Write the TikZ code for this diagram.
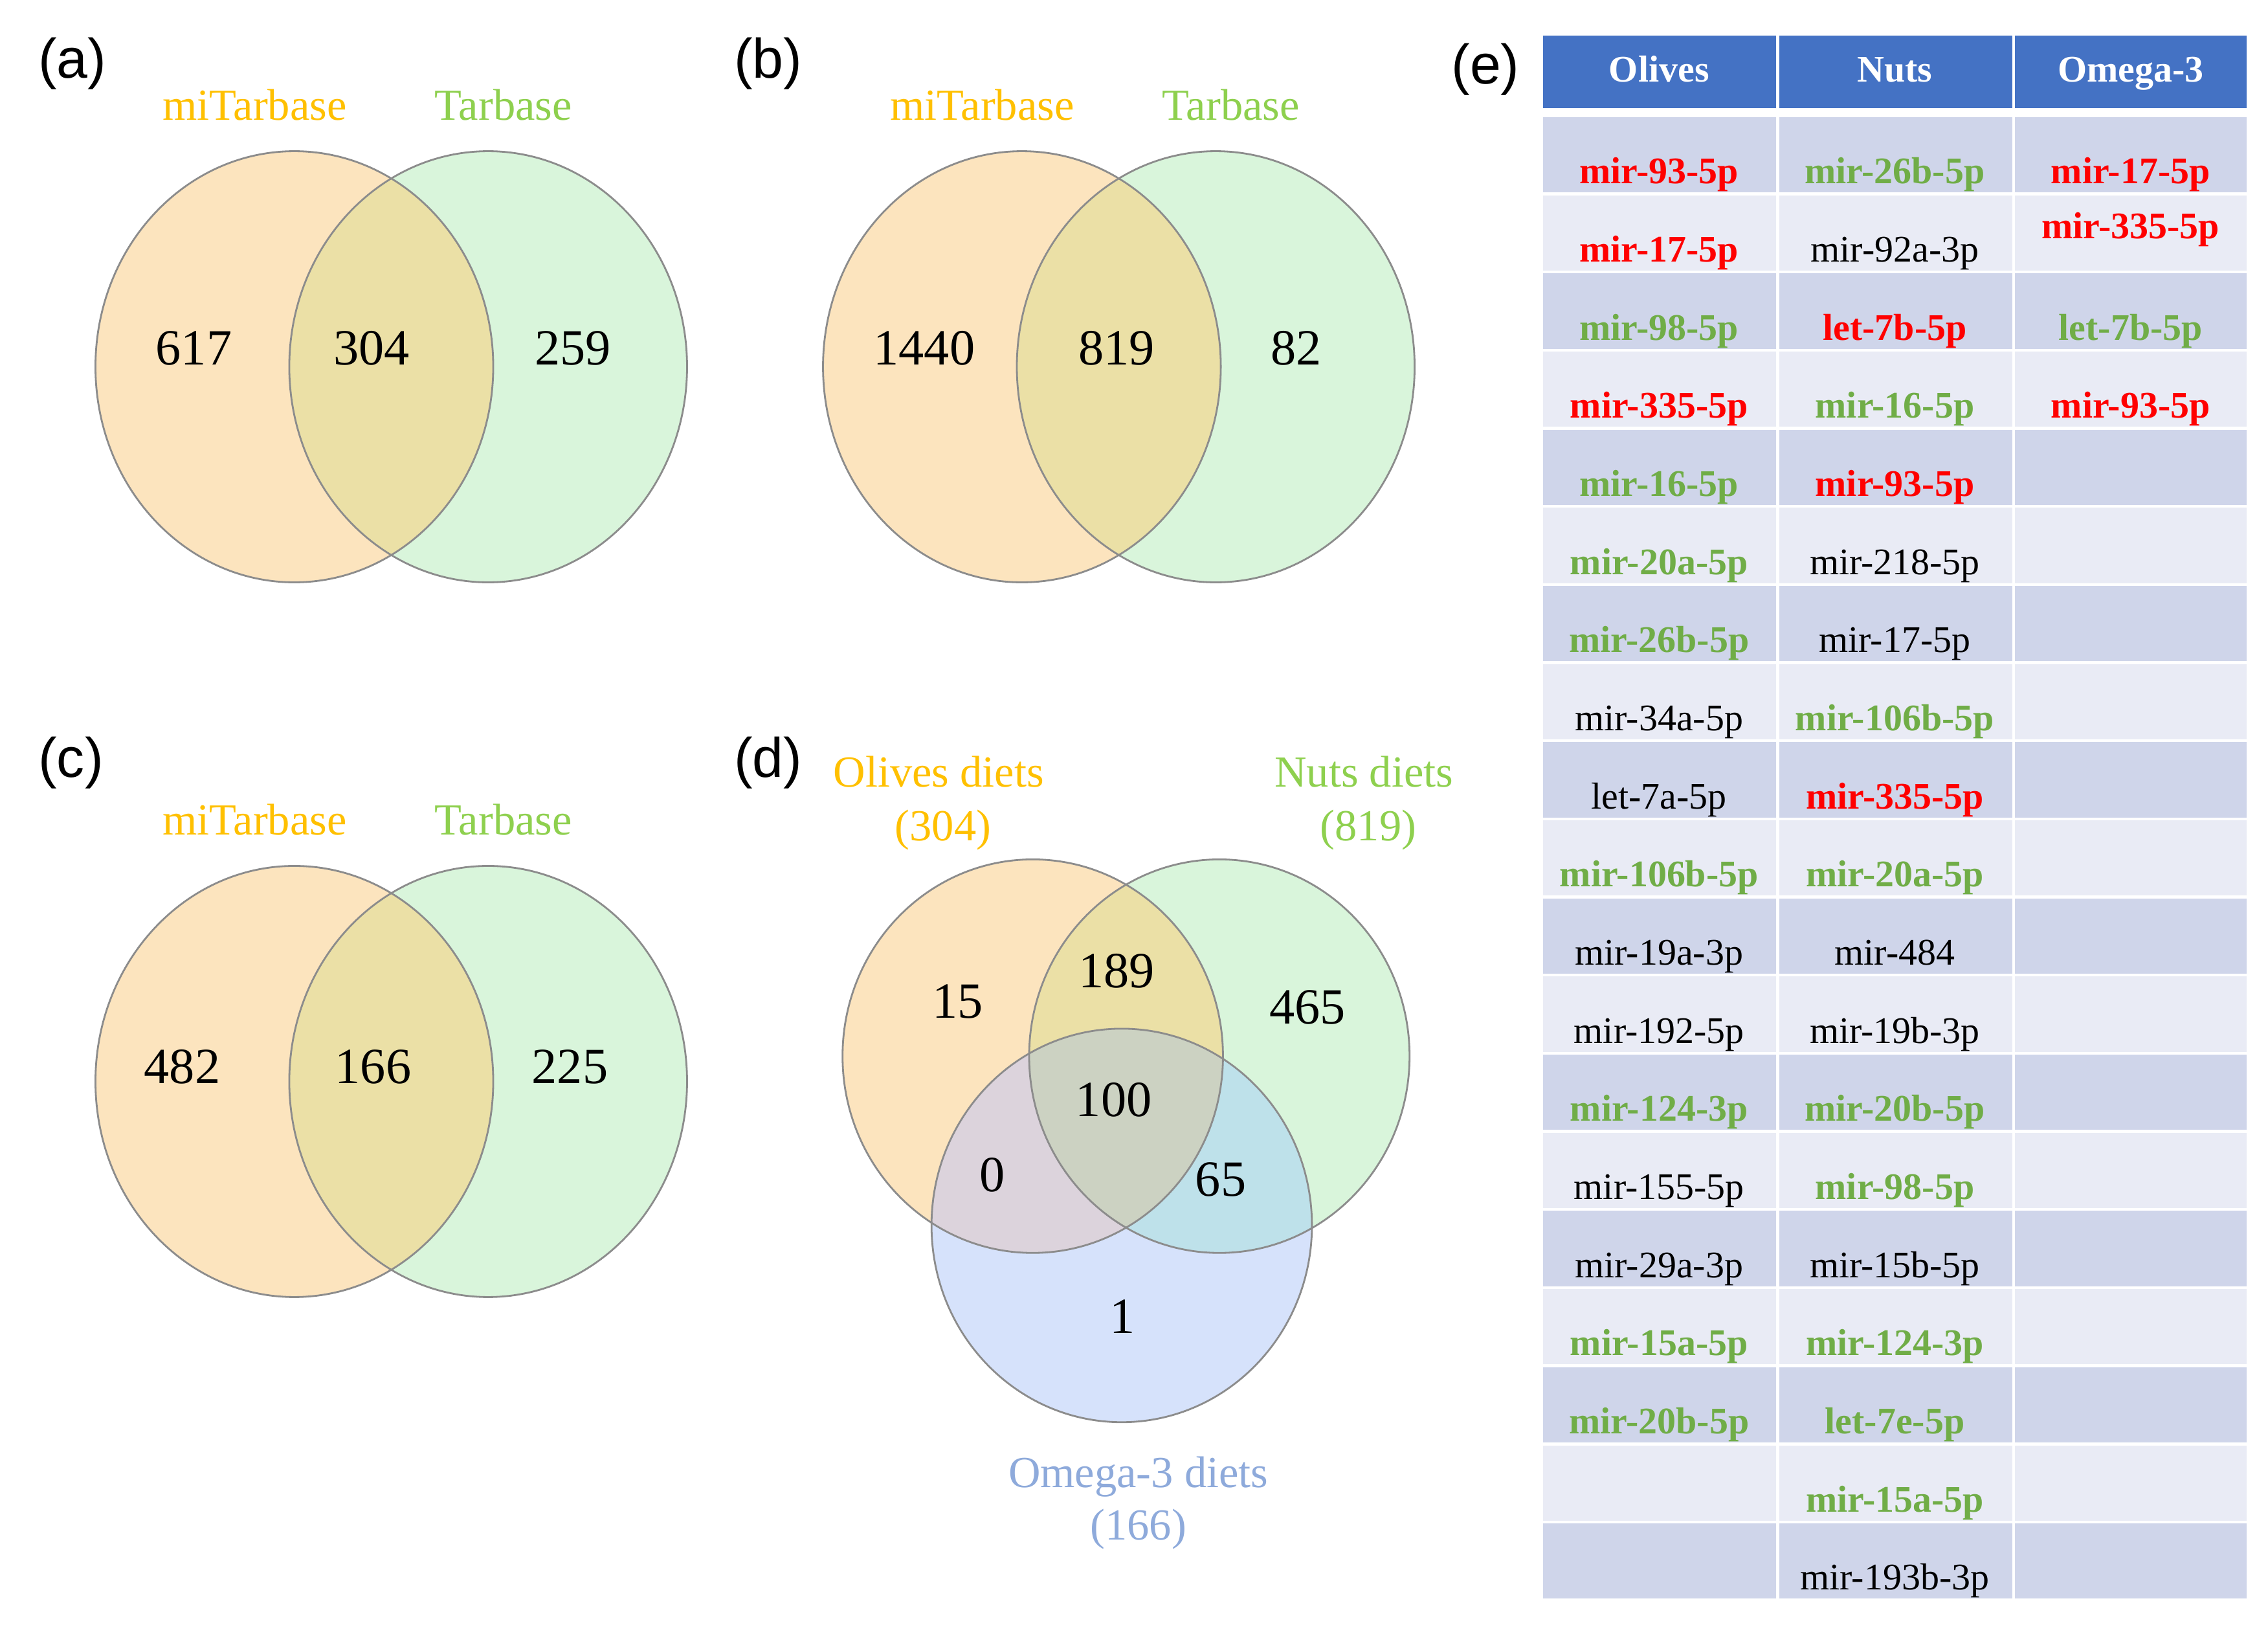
\documentclass[tikz,border=0pt]{standalone}
\usepackage{fontspec}
\setmainfont{Liberation Serif}
\newfontfamily\lblfont{Liberation Sans}
\definecolor{vO}{HTML}{FCE4BE}
\definecolor{vG}{HTML}{D9F5DB}
\definecolor{vOG}{HTML}{EBE0A6}
\definecolor{vB}{HTML}{D6E2FB}
\definecolor{vOB}{HTML}{DCD3DC}
\definecolor{vGB}{HTML}{BEE1EA}
\definecolor{vAll}{HTML}{CCD2C2}
\definecolor{labO}{HTML}{FFC000}
\definecolor{labG}{HTML}{8ED04E}
\definecolor{labB}{HTML}{8EAADB}
\definecolor{hdr}{HTML}{4472C4}
\definecolor{rowA}{HTML}{CFD5EA}
\definecolor{rowB}{HTML}{E9EBF5}
\definecolor{tgreen}{HTML}{70AD47}
\definecolor{outl}{HTML}{8C8C8C}
\begin{document}
\begin{tikzpicture}[x=0.022347cm,y=-0.022347cm,
  num/.style={font=\fontsize{22.3}{26}\selectfont, anchor=base, inner sep=0pt},
  vlab/.style={font=\fontsize{19.5}{23}\selectfont, anchor=base, inner sep=0pt},
  plab/.style={font=\lblfont\fontsize{24.5}{29}\selectfont, anchor=base, inner sep=0pt},
  tR/.style={font=\bfseries\fontsize{16.5}{20}\selectfont, text=red, anchor=base, inner sep=0pt},
  tG/.style={font=\bfseries\fontsize{16.5}{20}\selectfont, text=tgreen, anchor=base, inner sep=0pt},
  tK/.style={font=\fontsize{16.5}{20}\selectfont, text=black, anchor=base, inner sep=0pt},
  tH/.style={font=\bfseries\fontsize{16.5}{20}\selectfont, text=white, anchor=base, inner sep=0pt},
  outline/.style={draw=outl, line width=0.8pt}]
\useasboundingbox[fill=white] (0,0) rectangle (1568,1123);

% ---------- two-set Venn diagrams (a), (b), (c) ----------
\foreach \sx/\sy/\nm in {0/0/a, 503/0/b, 0/494/c}{
\begin{scope}[shift={(\sx,\sy)}]
  \coordinate (L\nm) at (203.5,253.5);
  \coordinate (R\nm) at (337.5,253.5);
  \fill[vO] (L\nm) ellipse [x radius=137.5, y radius=149];
  \fill[vG] (R\nm) ellipse [x radius=137.5, y radius=149];
  \begin{scope}
    \clip (L\nm) ellipse [x radius=137.5, y radius=149];
    \fill[vOG] (R\nm) ellipse [x radius=137.5, y radius=149];
  \end{scope}
  \draw[outline] (L\nm) ellipse [x radius=137.5, y radius=149];
  \draw[outline] (R\nm) ellipse [x radius=137.5, y radius=149];
  \node[vlab, text=labO] (mi\nm) at (176,83) {miTarbase};
  \node[vlab, text=labG] (ta\nm) at (348,83) {Tarbase};
\end{scope}
}
\node[plab] (pa) at (50,54) {(a)};
\node[plab] (pb) at (531,54) {(b)};
\node[plab] (pc) at (49,537) {(c)};
\node[plab] (pd) at (531,537) {(d)};
\node[plab] (pe) at (1027,58) {(e)};

\node[num] (a1) at (134,252) {617};
\node[num] (a2) at (257,252) {304};
\node[num] (a3) at (396,252) {259};
\node[num] (b1) at (639,252) {1440};
\node[num] (b2) at (772,252) {819};
\node[num] (b3) at (896,252) {82};
\node[num] (c1) at (126,749) {482};
\node[num] (c2) at (258,749) {166};
\node[num] (c3) at (394,749) {225};

% ---------- three-set Venn diagram (d) ----------
\coordinate (dO) at (714,730);
\coordinate (dN) at (843,730);
\coordinate (dW) at (775.5,847);
\def\rx{131.5}\def\ry{136}
\fill[vO] (dO) ellipse [x radius=\rx, y radius=\ry];
\fill[vG] (dN) ellipse [x radius=\rx, y radius=\ry];
\fill[vB] (dW) ellipse [x radius=\rx, y radius=\ry];
\begin{scope}
  \clip (dO) ellipse [x radius=\rx, y radius=\ry];
  \fill[vOG] (dN) ellipse [x radius=\rx, y radius=\ry];
  \fill[vOB] (dW) ellipse [x radius=\rx, y radius=\ry];
\end{scope}
\begin{scope}
  \clip (dN) ellipse [x radius=\rx, y radius=\ry];
  \fill[vGB] (dW) ellipse [x radius=\rx, y radius=\ry];
\end{scope}
\begin{scope}
  \clip (dO) ellipse [x radius=\rx, y radius=\ry];
  \clip (dN) ellipse [x radius=\rx, y radius=\ry];
  \fill[vAll] (dW) ellipse [x radius=\rx, y radius=\ry];
\end{scope}
\draw[outline] (dO) ellipse [x radius=\rx, y radius=\ry];
\draw[outline] (dN) ellipse [x radius=\rx, y radius=\ry];
\draw[outline] (dW) ellipse [x radius=\rx, y radius=\ry];

\node[vlab, text=labO] (olv) at (649,544) {Olives diets};
\node[vlab, text=labO] (olvn) at (652,581) {(304)};
\node[vlab, text=labG] (nut) at (943,544) {Nuts diets};
\node[vlab, text=labG] (nutn) at (946,581) {(819)};
\node[vlab, text=labB] (omg) at (787,1028) {Omega-3 diets};
\node[vlab, text=labB] (omgn) at (787,1064.5) {(166)};

\node[num] (d1) at (662,703.5) {15};
\node[num] (d2) at (772,682.5) {189};
\node[num] (d3) at (904,707.5) {465};
\node[num] (d4) at (770,771.5) {100};
\node[num] (d5) at (686,823.5) {0};
\node[num] (d6) at (844,826.5) {65};
\node[num] (d7) at (776,921.5) {1};

% ---------- table (e) ----------
\fill[hdr] (1067,24.5) rectangle (1228,74.5);
\fill[hdr] (1230,24.5) rectangle (1391,74.5);
\fill[hdr] (1393,24.5) rectangle (1553,74.5);
\foreach \i in {1,...,19}{
  \pgfmathsetmacro{\ytop}{81+54*(\i-1)}
  \pgfmathsetmacro{\ybot}{\ytop+52}
  \ifodd\i\def\rc{rowA}\else\def\rc{rowB}\fi
  \fill[fill=\rc] (1067,\ytop) rectangle (1228,\ybot);
  \fill[fill=\rc] (1230,\ytop) rectangle (1391,\ybot);
  \fill[fill=\rc] (1393,\ytop) rectangle (1553,\ybot);
}
\node[tH] (h1) at (1147,56.5) {Olives};
\node[tH] (h2) at (1310,56.5) {Nuts};
\node[tH] (h3) at (1473,56.5) {Omega-3};

\foreach \r/\s/\t in {1/tR/mir-93-5p, 2/tR/mir-17-5p, 3/tG/mir-98-5p, 4/tR/mir-335-5p,
  5/tG/mir-16-5p, 6/tG/mir-20a-5p, 7/tG/mir-26b-5p, 8/tK/mir-34a-5p, 9/tK/let-7a-5p,
  10/tG/mir-106b-5p, 11/tK/mir-19a-3p, 12/tK/mir-192-5p, 13/tG/mir-124-3p,
  14/tK/mir-155-5p, 15/tK/mir-29a-3p, 16/tG/mir-15a-5p, 17/tG/mir-20b-5p}{
  \node[\s] (ol\r) at (1147,{127+54*(\r-1)}) {\t};
}
\foreach \r/\s/\t in {1/tG/mir-26b-5p, 2/tK/mir-92a-3p, 3/tR/let-7b-5p, 4/tG/mir-16-5p,
  5/tR/mir-93-5p, 6/tK/mir-218-5p, 7/tK/mir-17-5p, 8/tG/mir-106b-5p, 9/tR/mir-335-5p,
  10/tG/mir-20a-5p, 11/tK/mir-484, 12/tK/mir-19b-3p, 13/tG/mir-20b-5p, 14/tG/mir-98-5p,
  15/tK/mir-15b-5p, 16/tG/mir-124-3p, 17/tG/let-7e-5p, 18/tG/mir-15a-5p, 19/tK/mir-193b-3p}{
  \node[\s] (nu\r) at (1310,{127+54*(\r-1)}) {\t};
}
\node[tR] (om1) at (1473,127) {mir-17-5p};
\node[tR] (om2) at (1473,165) {mir-335-5p};
\node[tG] (om3) at (1473,235) {let-7b-5p};
\node[tR] (om4) at (1473,289) {mir-93-5p};
\end{tikzpicture}
\end{document}
